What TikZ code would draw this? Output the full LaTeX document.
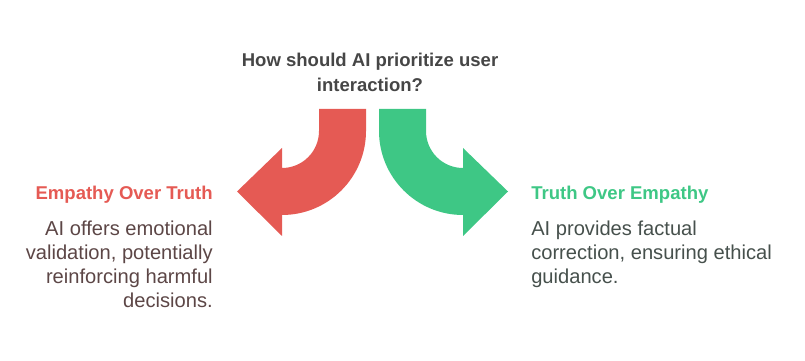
\documentclass[tikz,border=0pt]{standalone}
\usepackage{fontspec}
\setmainfont{Liberation Sans}
\usepackage{xcolor}
\definecolor{AIRed}{HTML}{E55A54}
\definecolor{AIGreen}{HTML}{3EC785}
\definecolor{AITitle}{HTML}{464646}
\definecolor{AIRedText}{HTML}{5C4646}
\definecolor{AIGreenText}{HTML}{46504C}

\begin{document}
\begin{tikzpicture}[x=0.75pt,y=0.75pt,
  headtext/.style={inner sep=0pt,font=\fontsize{13.9}{18.5}\selectfont\bfseries},
  bodytext/.style={inner sep=0pt,font=\fontsize{15.1}{18}\selectfont}]
\path[use as bounding box] (0,0) rectangle (805,360);
% red arrow, bending to the left
\fill[AIRed] (319,251) -- (366,251) -- (366,229) arc[start angle=0,end angle=-90,radius=84]
  -- (282,124) -- (237,168.5) -- (282,212) -- (282,192)
  arc[start angle=-90,end angle=0,radius=37] -- cycle;
% green arrow, bending to the right
\fill[AIGreen] (426,251) -- (379,251) -- (379,229) arc[start angle=180,end angle=270,radius=84]
  -- (463,124) -- (508,168.5) -- (463,212) -- (463,192)
  arc[start angle=270,end angle=180,radius=37] -- cycle;
\node[headtext,text=AITitle,align=center,anchor=north,
  font=\fontsize{13.9}{18.75}\selectfont\bfseries] (question) at (370,306.8)
  {How should AI prioritize user\\interaction?};
\node[headtext,text=AIRed,anchor=base east] (empathy) at (213,160.5) {Empathy Over Truth};
\node[bodytext,text=AIRedText,align=right,anchor=north east] (empathytext) at (213,139.6)
  {AI offers emotional\\validation, potentially\\reinforcing harmful\\decisions.};
\node[headtext,text=AIGreen,anchor=base west] (truth) at (531,160.5) {Truth Over Empathy};
\node[bodytext,text=AIGreenText,align=left,anchor=north west] (truthtext) at (531,139.6)
  {AI provides factual\\correction, ensuring ethical\\guidance.};
\end{tikzpicture}
\end{document}
